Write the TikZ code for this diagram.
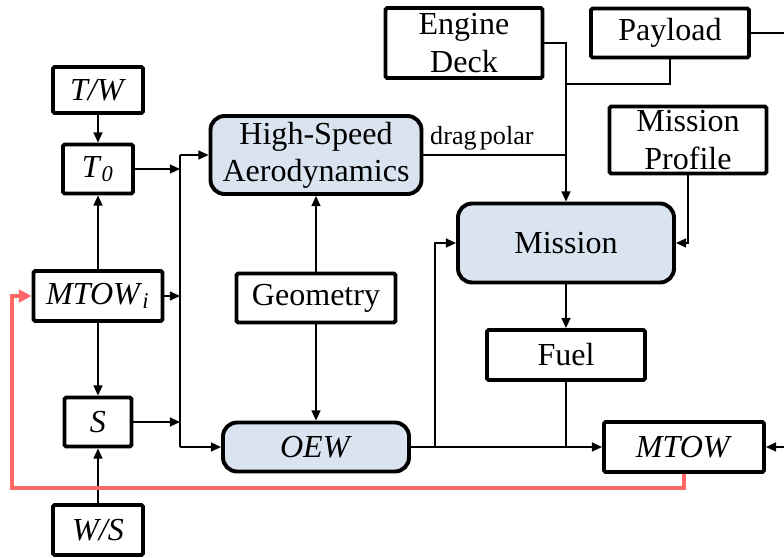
\documentclass[tikz,border=0pt]{standalone}
\usepackage{fontspec}
\setmainfont{Liberation Serif}
\usetikzlibrary{arrows.meta}

\newcommand\px{0.0125cm}
\definecolor{panel}{RGB}{218,227,240}

\begin{document}
\begin{tikzpicture}[
  x=\px, y=-\px,
  every node/.style={font=\fontsize{11.4}{13.2}\selectfont, align=center, inner sep=1pt},
  block/.style={draw, line width=1.4pt, rounded corners=0.6pt},
  panelbox/.style={draw, line width=1.4pt, rounded corners=5pt, fill=panel},
  flow/.style={-{Triangle[length=3.6pt,width=3.2pt]}, line width=0.5pt},
  link/.style={line width=0.5pt},
  feedback/.style={-{Triangle[length=4.5pt,width=4.5pt]}, draw=red!60, line width=1.7pt}
]
  \useasboundingbox (0,0) rectangle (784,557);

  % sizing chain
  \node[block, minimum width=90*\px, minimum height=46*\px] (tw) at (98,90) {\textit{T/W}};
  \node[block, minimum width=70*\px, minimum height=49*\px] (t0) at (98,169) {\textit{T}\textsubscript{\textit{0}}};
  \node[block, minimum width=129*\px, minimum height=50*\px] (mtowi) at (98,296) {\textit{MTOW}\textsubscript{\textit{i}}};
  \node[block, minimum width=67*\px, minimum height=49*\px] (s) at (98,422) {\textit{S}};
  \node[block, minimum width=90*\px, minimum height=50*\px] (ws) at (98,530) {\textit{W/S}};

  % analysis modules
  \node[panelbox, minimum width=211*\px, minimum height=78*\px] (hsa) at (316,155) {High-Speed\\Aerodynamics};
  \node[block, minimum width=159*\px, minimum height=49*\px] (geo) at (316,298) {Geometry};
  \node[panelbox, minimum width=186*\px, minimum height=49*\px] (oew) at (316,447) {\textit{OEW}};
  \node[block, minimum width=157*\px, minimum height=70*\px] (eng) at (464,43) {Engine\\Deck};
  \node[block, minimum width=158*\px, minimum height=49*\px] (pay) at (670,33) {Payload};
  \node[block, minimum width=157*\px, minimum height=67*\px] (prof) at (688,140) {Mission\\Profile};
  \node[panelbox, minimum width=216*\px, minimum height=79*\px] (mission) at (566,243) {Mission};
  \node[block, minimum width=158*\px, minimum height=50*\px] (fuel) at (566,355) {Fuel};
  \node[block, minimum width=160*\px, minimum height=50*\px] (mtow) at (684,447) {\textit{MTOW}};

  % junctions and free ends
  \coordinate (bustop) at (180,155);
  \coordinate (busbot) at (180,447);
  \coordinate (payjoin) at (566,84);
  \coordinate (oewjoin) at (435,447);
  \coordinate (payout) at (784,33);
  \coordinate (mtowin) at (784,447);
  \coordinate (fbcorner) at (12,488);

  \draw[flow] (tw) -- (t0);
  \draw[flow] (mtowi) -- (t0);
  \draw[flow] (mtowi) -- (s);
  \draw[flow] (ws) -- (s);
  \draw[flow] (t0) -- (t0 -| bustop);
  \draw[flow] (mtowi) -- (mtowi -| bustop);
  \draw[flow] (s) -- (s -| bustop);
  \draw[link] (bustop) -- (busbot);
  \draw[flow] (bustop) -- (hsa);
  \draw[flow] (busbot) -- (oew);
  \draw[flow] (geo) -- (hsa);
  \draw[flow] (geo) -- (oew);

  \draw[link] (hsa) -- node[above, pos=0.41, inner sep=1.5pt, font=\fontsize{9.3}{10}\selectfont] {drag\hspace{0.12em}polar} (hsa -| mission);
  \draw[flow] (eng) -| (mission);
  \draw[link] (pay) |- (payjoin);
  \draw[link] (pay) -- (payout);
  \draw[flow] (prof) |- (mission);
  \draw[flow] (mission) -- (fuel);
  \draw[flow] (oew) -- (oewjoin) |- (mission);
  \draw[flow] (oew) -- (mtow);
  \draw[link] (fuel) -- (fuel |- mtow);
  \draw[flow] (mtowin) -- (mtow);

  % iteration loop
  \draw[feedback] (mtow) |- (fbcorner) |- (mtowi);
\end{tikzpicture}
\end{document}
